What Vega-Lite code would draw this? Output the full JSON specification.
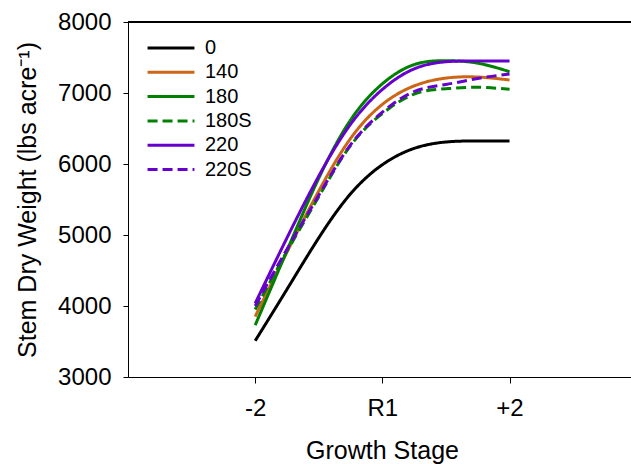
{
  "$schema": "https://vega.github.io/schema/vega-lite/v6.json",
  "width": 503,
  "height": 355,
  "autosize": {"type": "none"},
  "padding": {"left": 128, "top": 22, "right": 0, "bottom": 87},
  "config": {
    "view": {"stroke": null},
    "font": "Liberation Sans",
    "axis": {"labelFont": "Liberation Sans", "titleFont": "Liberation Sans", "labelColor": "black", "titleColor": "black", "domainColor": "black", "tickColor": "black", "titleFontWeight": "normal", "grid": false}
  },
  "data": {
    "values": [
      {"series": "0", "stage": -2, "weight": 3510},
      {"series": "0", "stage": -1.5, "weight": 4235},
      {"series": "0", "stage": -1, "weight": 4960},
      {"series": "0", "stage": -0.5, "weight": 5580},
      {"series": "0", "stage": 0, "weight": 5990},
      {"series": "0", "stage": 0.5, "weight": 6220},
      {"series": "0", "stage": 1, "weight": 6310},
      {"series": "0", "stage": 1.5, "weight": 6325},
      {"series": "0", "stage": 2, "weight": 6325},
      {"series": "140", "stage": -2, "weight": 3850},
      {"series": "140", "stage": -1.5, "weight": 4760},
      {"series": "140", "stage": -1, "weight": 5620},
      {"series": "140", "stage": -0.5, "weight": 6360},
      {"series": "140", "stage": 0, "weight": 6840},
      {"series": "140", "stage": 0.5, "weight": 7100},
      {"series": "140", "stage": 1, "weight": 7210},
      {"series": "140", "stage": 1.5, "weight": 7225},
      {"series": "140", "stage": 2, "weight": 7183},
      {"series": "180", "stage": -2, "weight": 3730},
      {"series": "180", "stage": -1.5, "weight": 4780},
      {"series": "180", "stage": -1, "weight": 5800},
      {"series": "180", "stage": -0.5, "weight": 6620},
      {"series": "180", "stage": 0, "weight": 7130},
      {"series": "180", "stage": 0.5, "weight": 7400},
      {"series": "180", "stage": 1, "weight": 7455},
      {"series": "180", "stage": 1.5, "weight": 7420},
      {"series": "180", "stage": 2, "weight": 7300},
      {"series": "180S", "stage": -2, "weight": 3950},
      {"series": "180S", "stage": -1.5, "weight": 4770},
      {"series": "180S", "stage": -1, "weight": 5540},
      {"series": "180S", "stage": -0.5, "weight": 6260},
      {"series": "180S", "stage": 0, "weight": 6710},
      {"series": "180S", "stage": 0.5, "weight": 6985},
      {"series": "180S", "stage": 1, "weight": 7060},
      {"series": "180S", "stage": 1.5, "weight": 7080},
      {"series": "180S", "stage": 2, "weight": 7052},
      {"series": "220", "stage": -2, "weight": 4037},
      {"series": "220", "stage": -1.5, "weight": 4960},
      {"series": "220", "stage": -1, "weight": 5830},
      {"series": "220", "stage": -0.5, "weight": 6560},
      {"series": "220", "stage": 0, "weight": 7050},
      {"series": "220", "stage": 0.5, "weight": 7340},
      {"series": "220", "stage": 1, "weight": 7440},
      {"series": "220", "stage": 1.5, "weight": 7451},
      {"series": "220", "stage": 2, "weight": 7451},
      {"series": "220S", "stage": -2, "weight": 4000},
      {"series": "220S", "stage": -1.5, "weight": 4800},
      {"series": "220S", "stage": -1, "weight": 5560},
      {"series": "220S", "stage": -0.5, "weight": 6270},
      {"series": "220S", "stage": 0, "weight": 6730},
      {"series": "220S", "stage": 0.5, "weight": 7020},
      {"series": "220S", "stage": 1, "weight": 7120},
      {"series": "220S", "stage": 1.5, "weight": 7205},
      {"series": "220S", "stage": 2, "weight": 7268}
    ]
  },
  "layer": [
    {
      "mark": {"type": "rule", "color": "black", "strokeWidth": 1.2},
      "encoding": {"y": {"datum": 8000, "type": "quantitative", "scale": {"domain": [3000, 8000]}}}
    },
    {
      "mark": {"type": "line", "interpolate": "natural", "strokeWidth": 3, "strokeCap": "butt"},
      "encoding": {
        "x": {
          "field": "stage", "type": "quantitative",
          "scale": {"domain": [-4, 3.91], "nice": false, "zero": false},
          "axis": {
            "title": "Growth Stage", "titleFontSize": 25, "titlePadding": 18, "titleX": 254,
            "values": [-2, 0, 2],
            "labelExpr": "datum.value == 0 ? 'R1' : (datum.value > 0 ? '+2' : '-2')",
            "labelFontSize": 24, "labelPadding": 13, "tickSize": 6, "labelFlush": false
          }
        },
        "y": {
          "field": "weight", "type": "quantitative",
          "scale": {"domain": [3000, 8000], "nice": false, "zero": false},
          "axis": {
            "title": "Stem Dry Weight (lbs acre⁻¹)", "titleFontSize": 25, "titlePadding": 17,
            "values": [3000, 4000, 5000, 6000, 7000, 8000], "format": "d",
            "labelFontSize": 24, "labelPadding": 12, "tickSize": 5, "labelFlush": false
          }
        },
        "color": {
          "field": "series", "type": "nominal",
          "scale": {"domain": ["0", "140", "180", "180S", "220", "220S"], "range": ["#000000", "#cc6617", "#008000", "#008000", "#6600cc", "#6600cc"]},
          "legend": {
            "title": null, "orient": "none", "legendX": 18, "legendY": 16,
            "symbolType": "stroke", "symbolSize": 2200, "symbolStrokeWidth": 3,
            "labelFontSize": 20, "labelFont": "Liberation Sans", "labelColor": "black",
            "clipHeight": 20, "rowPadding": 4.3, "labelOffset": 9
          }
        },
        "strokeDash": {
          "field": "series", "type": "nominal",
          "scale": {"domain": ["0", "140", "180", "180S", "220", "220S"], "range": [[1, 0], [1, 0], [1, 0], [10, 5], [1, 0], [10, 5]]},
          "legend": {
            "title": null, "orient": "none", "legendX": 18, "legendY": 16,
            "symbolType": "stroke", "symbolSize": 2200, "symbolStrokeWidth": 3,
            "labelFontSize": 20, "labelFont": "Liberation Sans", "labelColor": "black",
            "clipHeight": 20, "rowPadding": 4.3, "labelOffset": 9
          }
        }
      }
    }
  ]
}
